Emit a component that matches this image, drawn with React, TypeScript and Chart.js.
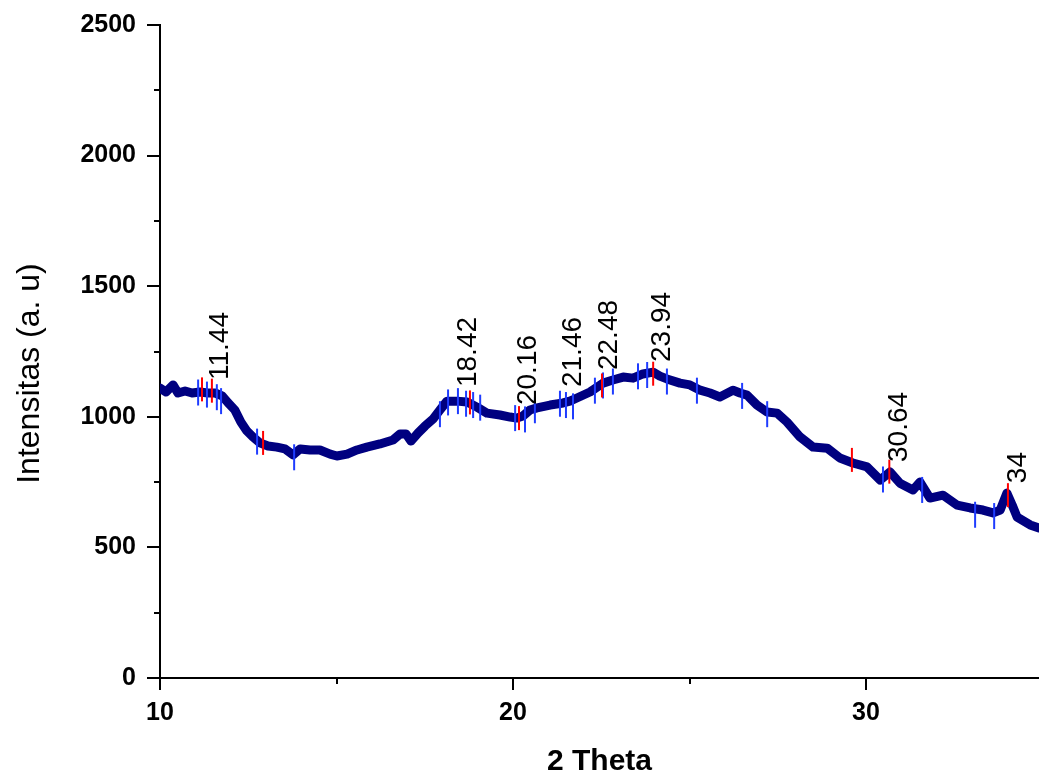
import React, { useEffect, useRef } from "react";
import { Chart, registerables } from "chart.js";

Chart.register(...registerables);

const thetaValues = [10.00, 10.17, 10.37, 10.51, 10.71, 10.91, 11.13, 11.36, 11.56, 11.76, 11.93, 12.12, 12.29, 12.46, 12.63, 12.83, 13.06, 13.31, 13.54, 13.77, 13.97, 14.25, 14.53, 14.82, 15.01, 15.30, 15.58, 15.86, 16.23, 16.60, 16.80, 16.97, 17.11, 17.31, 17.51, 17.73, 17.93, 18.13, 18.41, 18.70, 18.98, 19.26, 19.63, 19.92, 20.11, 20.28, 20.48, 20.68, 21.05, 21.42, 21.61, 21.81, 22.18, 22.55, 22.83, 23.12, 23.40, 23.68, 23.97, 24.16, 24.36, 24.73, 25.01, 25.30, 25.58, 25.86, 26.23, 26.43, 26.63, 26.91, 27.20, 27.48, 27.76, 28.13, 28.50, 28.90, 29.26, 29.63, 30.03, 30.40, 30.68, 30.96, 31.33, 31.53, 31.81, 32.18, 32.58, 32.95, 33.31, 33.60, 33.80, 33.99, 34.14, 34.28, 34.65, 34.90];
const intensityValues = [1110, 1095, 1122, 1091, 1099, 1091, 1095, 1091, 1091, 1080, 1053, 1026, 980, 946, 923, 900, 888, 884, 877, 854, 877, 873, 873, 857, 850, 857, 873, 884, 896, 911, 934, 934, 907, 938, 965, 991, 1026, 1060, 1060, 1057, 1037, 1014, 1007, 999, 995, 1003, 1026, 1034, 1045, 1053, 1060, 1072, 1095, 1129, 1141, 1152, 1148, 1164, 1171, 1156, 1145, 1129, 1122, 1102, 1091, 1076, 1102, 1091, 1083, 1045, 1018, 1014, 980, 923, 884, 880, 842, 823, 808, 758, 789, 746, 720, 750, 689, 700, 662, 651, 643, 632, 643, 708, 662, 616, 586, 574];

const blueMarkerTheta = [11.08, 11.33, 11.61, 11.73, 12.75, 13.80, 17.93, 18.16, 18.44, 18.67, 18.87, 19.07, 20.06, 20.34, 20.62, 21.33, 21.50, 21.70, 22.32, 22.55, 22.83, 23.54, 23.80, 24.36, 25.21, 26.49, 27.20, 30.48, 31.59, 33.09, 33.63];
const blueMarkerIntensity = [1093, 1085, 1075, 1060, 905, 845, 1010, 1055, 1060, 1050, 1045, 1035, 995, 990, 1025, 1050, 1045, 1040, 1100, 1120, 1135, 1155, 1160, 1135, 1100, 1080, 1010, 760, 720, 625, 620];

const redMarkerTheta = [11.19, 11.47, 12.92, 18.78, 20.17, 22.52, 23.97, 29.60, 30.66, 34.02];
const redMarkerIntensity = [1105, 1100, 900, 1055, 995, 1120, 1165, 835, 790, 700];

const peakLabels = ["11.44", "18.42", "20.16", "21.46", "22.48", "23.94", "30.64", "34"];
const labelTheta = [11.70, 18.73, 20.42, 21.70, 22.72, 24.22, 30.93, 34.31];
const labelIntensity = [1141, 1114, 1045, 1114, 1179, 1210, 827, 746];

const xMin = 10;
const xMax = 34.9;
const yMin = 0;
const yMax = 2500;
const xTickValues = [10, 15, 20, 25, 30];
const xTickLabels = ["10", "", "20", "", "30"];
const yTickValues = [0, 250, 500, 750, 1000, 1250, 1500, 1750, 2000, 2250, 2500];

const xTitle = "2 Theta";
const yTitle = "Intensitas (a. u)";

const FONT = "'Liberation Sans', Arial, sans-serif";

const decorPlugin = {
  id: "decor",
  afterDraw(chart: any) {
    const ctx = chart.ctx;
    const xs = chart.scales.x;
    const ys = chart.scales.y;
    const area = chart.chartArea;
    ctx.save();
    ctx.strokeStyle = "#000";
    ctx.lineWidth = 2;
    yTickValues.forEach((v) => {
      const py = Math.round(ys.getPixelForValue(v));
      const len = v % 500 === 0 ? 13 : 6;
      ctx.beginPath();
      ctx.moveTo(area.left, py);
      ctx.lineTo(area.left - len, py);
      ctx.stroke();
    });
    ctx.fillStyle = "#000";
    ctx.font = `bold 25px ${FONT}`;
    ctx.textAlign = "center";
    ctx.textBaseline = "alphabetic";
    xTickValues.forEach((v, i) => {
      const px = Math.round(xs.getPixelForValue(v));
      const len = v % 10 === 0 ? 12 : 6;
      ctx.beginPath();
      ctx.moveTo(px, area.bottom);
      ctx.lineTo(px, area.bottom + len);
      ctx.stroke();
      if (xTickLabels[i]) ctx.fillText(xTickLabels[i], px, area.bottom + 42);
    });
    ctx.font = `28px ${FONT}`;
    ctx.textAlign = "left";
    ctx.textBaseline = "middle";
    peakLabels.forEach((txt, i) => {
      const px = xs.getPixelForValue(labelTheta[i]);
      const py = ys.getPixelForValue(labelIntensity[i]);
      ctx.save();
      ctx.translate(px, py);
      ctx.rotate(-Math.PI / 2);
      ctx.fillText(txt, 0, 0);
      ctx.restore();
    });
    ctx.font = `bold 30px ${FONT}`;
    ctx.textAlign = "center";
    ctx.textBaseline = "middle";
    ctx.fillText(xTitle, (area.left + area.right) / 2, area.bottom + 84);
    ctx.font = `32px ${FONT}`;
    ctx.save();
    ctx.translate(30, (area.top + area.bottom) / 2 + 22);
    ctx.rotate(-Math.PI / 2);
    ctx.fillText(yTitle, 0, 0);
    ctx.restore();
    ctx.restore();
  },
};

export default function App() {
  const canvasRef = useRef<HTMLCanvasElement | null>(null);

  useEffect(() => {
    if (!canvasRef.current) return;
    document.body.style.margin = "0";
    document.body.style.overflow = "hidden";
    const lineData = thetaValues.map((t, i) => ({ x: t, y: intensityValues[i] }));
    const blueData = blueMarkerTheta.map((t, i) => ({ x: t, y: blueMarkerIntensity[i] }));
    const redData = redMarkerTheta.map((t, i) => ({ x: t, y: redMarkerIntensity[i] }));

    const chart = new Chart(canvasRef.current, {
      type: "scatter",
      data: {
        datasets: [
          {
            label: "red",
            data: redData,
            showLine: false,
            pointStyle: "line",
            rotation: 90,
            pointRadius: 12,
            pointBorderWidth: 2,
            borderColor: "#ff0000",
            backgroundColor: "#ff0000",
            order: 1,
          },
          {
            label: "blue",
            data: blueData,
            showLine: false,
            pointStyle: "line",
            rotation: 90,
            pointRadius: 13,
            pointBorderWidth: 2,
            borderColor: "#1f3cff",
            backgroundColor: "#1f3cff",
            order: 2,
          },
          {
            label: "XRD",
            data: lineData,
            showLine: true,
            borderColor: "#000080",
            backgroundColor: "#000080",
            borderWidth: 9,
            pointRadius: 0,
            borderJoinStyle: "round",
            borderCapStyle: "round",
            tension: 0,
            order: 3,
          },
        ],
      },
      options: {
        animation: false,
        responsive: false,
        maintainAspectRatio: false,
        layout: { autoPadding: false, padding: { top: 25, right: 0, left: 0, bottom: 0 } },
        plugins: {
          legend: { display: false },
          tooltip: { enabled: false },
        },
        scales: {
          x: {
            type: "linear",
            min: xMin,
            max: xMax,
            grid: { display: false, drawTicks: false },
            border: { display: true, color: "#000", width: 2 },
            ticks: { display: false, stepSize: 5 },
            afterFit(scale: any) {
              scale.height = 97;
              scale.paddingLeft = 0;
              scale.paddingRight = 0;
            },
          },
          y: {
            type: "linear",
            min: yMin,
            max: yMax,
            grid: { display: false, drawTicks: false },
            border: { display: true, color: "#000", width: 2 },
            ticks: {
              stepSize: 500,
              color: "#000",
              font: { family: FONT, size: 25, weight: "bold" },
              padding: 24,
              callback: (v: any) => String(v),
            },
            afterFit(scale: any) {
              scale.width = 160;
              scale.paddingTop = 0;
              scale.paddingBottom = 0;
            },
          },
        },
      },
      plugins: [decorPlugin],
    });
    return () => chart.destroy();
  }, []);

  return (
    <div style={{ position: "fixed", left: 0, top: 0, width: 1039, height: 775, background: "#fff", overflow: "hidden" }}>
      <canvas ref={canvasRef} width={1039} height={775} style={{ display: "block", width: 1039, height: 775 }} />
    </div>
  );
}
